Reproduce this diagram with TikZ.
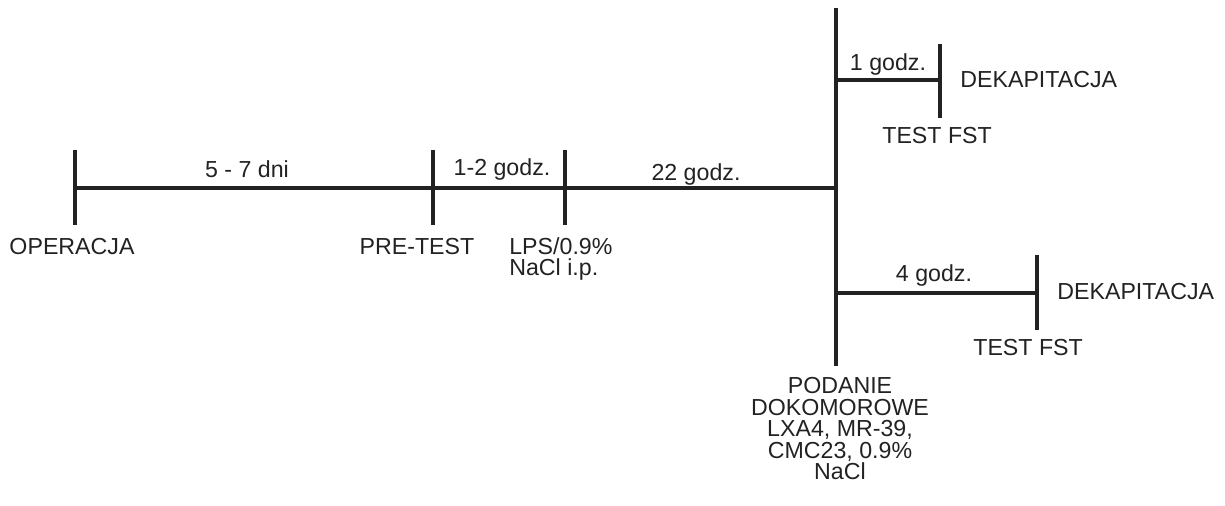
\documentclass[tikz,border=0pt]{standalone}
\usepackage{fontspec}
\setmainfont{Liberation Sans}
\usepackage{tikz}
\definecolor{ink}{HTML}{222222}

\begin{document}
\begin{tikzpicture}[x=0.02cm, y=-0.02cm,
    axis/.style={line width=2.3pt, draw=ink},
    lbl/.style={font=\fontsize{13.2}{12.3}\selectfont, text=ink, inner sep=0pt},
    tlbl/.style={lbl, anchor=base},
    elbl/.style={lbl, anchor=base west}
]
\useasboundingbox (0,0) rectangle (1225,506);

% ================================================================
%  Main time line
% ================================================================
\foreach \n/\x in {op/75, pre/433, lps/565} {
    \coordinate (\n-t) at (\x,150);
    \coordinate (\n)   at (\x,188);
    \coordinate (\n-b) at (\x,225);
    \draw[axis] (\n-t) -- (\n-b);
}
\coordinate (inj-t) at (836,8);
\coordinate (inj)   at (836,188);
\coordinate (inj-b) at (836,366);
\draw[axis] (op) -- (inj);
\draw[axis] (inj-t) -- (inj-b);

\node[tlbl] (d57)  at (247,178) {5 - 7 dni};
\node[tlbl] (d12)  at (502,176) {1-2 godz.};
\node[tlbl] (d22)  at (696,181) {22 godz.};

\node[tlbl] (oper) at (72,255)  {OPERACJA};
\node[tlbl] (pret) at (417,255) {PRE-TEST};
\node[lbl, anchor=north west, align=left] (lpsl) at (509,237)
    {LPS/0.9\%\\NaCl i.p.};

% ================================================================
%  Branches -- 1 h and 4 h
% ================================================================
\coordinate (b1) at (836,80);
\coordinate (e1) at (940,80);
\coordinate (e1-t) at (940,44);
\coordinate (e1-b) at (940,118);
\draw[axis] (b1) -- (e1);
\draw[axis] (e1-t) -- (e1-b);

\coordinate (b2) at (836,293);
\coordinate (e2) at (1037,293);
\coordinate (e2-t) at (1037,255);
\coordinate (e2-b) at (1037,330);
\draw[axis] (b2) -- (e2);
\draw[axis] (e2-t) -- (e2-b);

\node[tlbl] (h1)    at (888,71)   {1 godz.};
\node[elbl] (dek1)  at (960,88)   {DEKAPITACJA};
\node[elbl] (fst1)  at (882,144)  {TEST FST};

\node[tlbl] (h4)    at (934,282)  {4 godz.};
\node[elbl] (dek2)  at (1057,300) {DEKAPITACJA};
\node[elbl] (fst2)  at (973,356)  {TEST FST};

% injection label
\node[lbl, anchor=north, align=center] (icv) at (840,377)
    {PODANIE\\DOKOMOROWE\\LXA4, MR-39,\\CMC23, 0.9\%\\NaCl};
\end{tikzpicture}
\end{document}
